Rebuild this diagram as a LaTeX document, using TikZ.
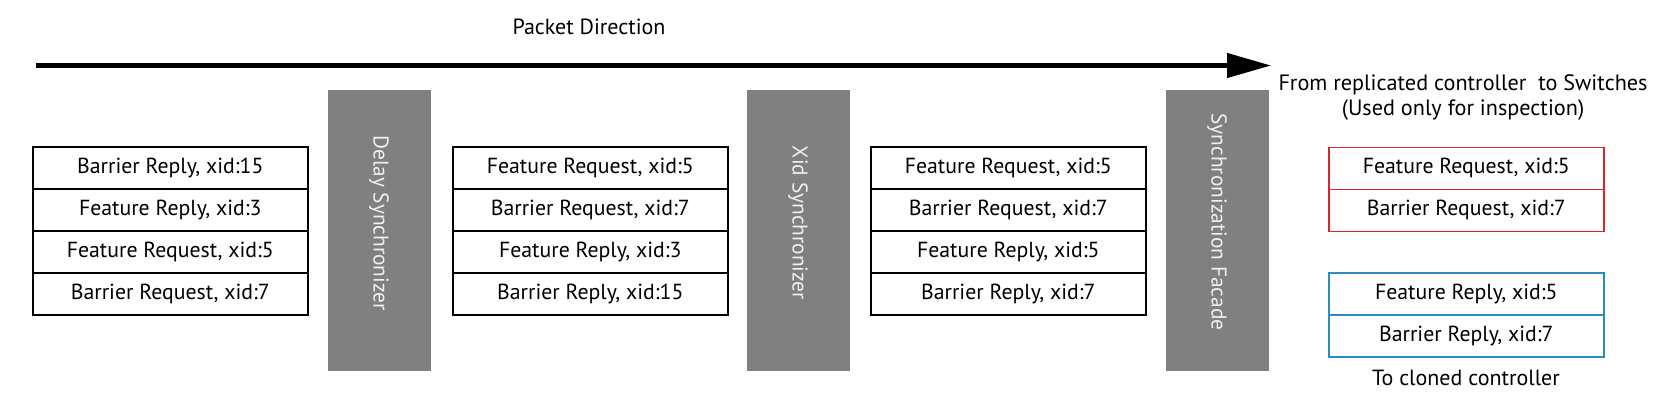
\documentclass[tikz,border=0pt]{standalone}
\usepackage{fontspec}
\setmainfont{PT Sans}
\usetikzlibrary{arrows.meta}
\definecolor{barg}{HTML}{808080}
\definecolor{myred}{HTML}{D7262B}
\definecolor{myblue}{HTML}{2A8BC8}
\begin{document}
\begin{tikzpicture}[x=1pt,y=-1pt,
  row/.style={draw=black,line width=1.6pt,minimum width=275pt,minimum height=42pt,inner sep=0pt,anchor=north west,font=\fontsize{21.8}{26}\selectfont},
  redrow/.style={row,draw=myred},
  bluerow/.style={row,draw=myblue},
  bar/.style={fill=barg,draw=none,minimum width=103pt,minimum height=281pt,inner sep=0pt,anchor=north west},
  bartext/.style={text=white!94!black,rotate=-90,font=\fontsize{21.4}{26}\selectfont},
  lbl/.style={font=\fontsize{22}{25.5}\selectfont,align=center}]
\useasboundingbox (0,0) rectangle (1660,400);
% arrow
\coordinate (as) at (36,65.5);
\coordinate (ae) at (1271,65.5);
\draw[line width=4.5pt,-{Triangle[length=44pt,width=24pt]}] (as) -- (ae);
\node[lbl] (pd) at (589,27) {Packet Direction};
% bars
\node[bar] (b1) at (328,90) {};
\node[bar] (b2) at (747,90) {};
\node[bar] (b3) at (1166,90) {};
\node[bartext] (t1) at (379,223) {Delay Synchronizer};
\node[bartext] (t2) at (798,223) {Xid Synchronizer};
\node[bartext] (t3) at (1217,222) {Synchronization Facade};
% box 1
\node[row] (a1) at (32,146) {Barrier Reply, xid:15};
\node[row] (a2) at (32,188) {Feature Reply, xid:3};
\node[row] (a3) at (32,230) {Feature Request, xid:5};
\node[row] (a4) at (32,272) {Barrier Request, xid:7};
% box 2
\node[row] (m1) at (452,146) {Feature Request, xid:5};
\node[row] (m2) at (452,188) {Barrier Request, xid:7};
\node[row] (m3) at (452,230) {Feature Reply, xid:3};
\node[row] (m4) at (452,272) {Barrier Reply, xid:15};
% box 3
\node[row] (c1) at (870,146) {Feature Request, xid:5};
\node[row] (c2) at (870,188) {Barrier Request, xid:7};
\node[row] (c3) at (870,230) {Feature Reply, xid:5};
\node[row] (c4) at (870,272) {Barrier Reply, xid:7};
% right
\node[lbl,font=\fontsize{22.2}{25.5}\selectfont] (top) at (1463,97.5) {From replicated controller\ \ to Switches\\(Used only for inspection)};
\node[redrow] (r1) at (1328,146.5) {Feature Request, xid:5};
\node[redrow] (r2) at (1328,188.5) {Barrier Request, xid:7};
\node[bluerow] (l1) at (1328,272) {Feature Reply, xid:5};
\node[bluerow] (l2) at (1328,314) {Barrier Reply, xid:7};
\node[lbl] (bot) at (1466,378) {To cloned controller};
\end{tikzpicture}
\end{document}
